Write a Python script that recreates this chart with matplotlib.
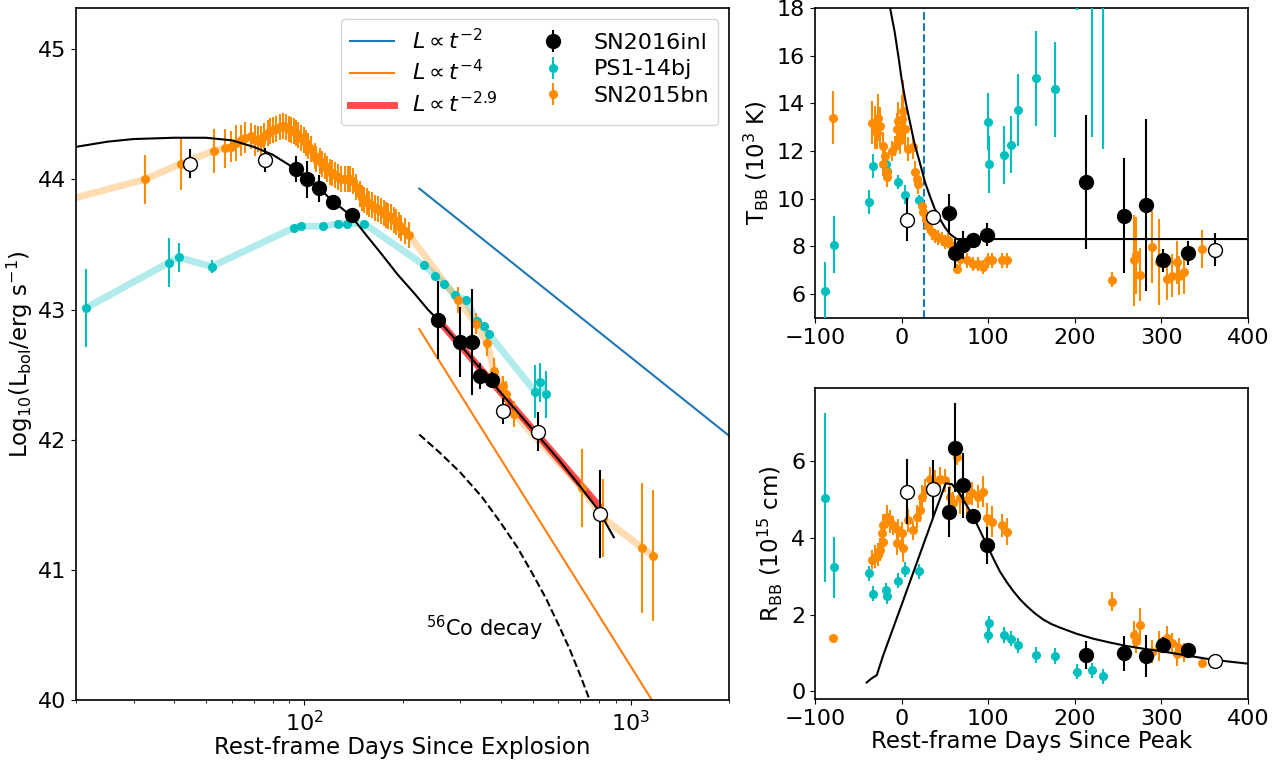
import matplotlib

matplotlib.use("Agg")
import matplotlib.pyplot as plt

# ---------------------------------------------------------------------------
# Left panel: bolometric light curves vs rest-frame days since explosion
# ---------------------------------------------------------------------------
inl_t_fill = [94.5, 102, 111, 122.6, 140, 257, 300, 326, 345, 376]
inl_L_fill = [44.08, 44.00, 43.93, 43.83, 43.73, 42.92, 42.75, 42.75, 42.49, 42.46]
inl_Lerr_fill = [0.10, 0.14, 0.10, 0.04, 0.04, 0.30, 0.27, 0.41, 0.10, 0.06]
inl_t_open = [44.8, 76, 406, 520, 804]
inl_L_open = [44.12, 44.15, 42.22, 42.06, 41.43]
inl_Lerr_open = [0.11, 0.09, 0.10, 0.15, 0.34]

model_t = [20, 25, 30, 40, 50, 60, 70, 80, 90, 100, 110, 122.6, 130, 139, 155,
           172, 193, 218, 239, 257, 300, 350, 400, 500, 600, 700, 800, 887]
model_L = [44.25, 44.29, 44.31, 44.32, 44.32, 44.30, 44.25, 44.19, 44.11, 44.02,
           43.94, 43.83, 43.78, 43.72, 43.57, 43.43, 43.27, 43.12, 43.00, 42.92,
           42.73, 42.53, 42.36, 42.08, 41.85, 41.64, 41.45, 41.25]

ps_t = [21.4, 38.4, 41.2, 52.0, 93.2, 97.9, 114, 127, 135, 152.6, 233, 252, 268,
        290, 313, 338, 355, 368, 509, 527, 550]
ps_L = [43.01, 43.36, 43.40, 43.33, 43.63, 43.64, 43.64, 43.66, 43.66, 43.66,
        43.34, 43.26, 43.20, 43.11, 43.07, 42.91, 42.87, 42.81, 42.37, 42.44, 42.35]
ps_Lerr = [0.30, 0.19, 0.11, 0.05, 0.02, 0.02, 0.03, 0.03, 0.02, 0.02, 0.03,
           0.03, 0.02, 0.03, 0.03, 0.03, 0.03, 0.03, 0.20, 0.15, 0.18]

bn_t = [18, 32.5, 41.8, 52.9, 57.1, 59.5, 62.0, 63.8, 65.7, 68.9, 70.5, 72.2,
        73.9, 75.5, 77.4, 78.8, 80.2, 82.0, 84.0, 86.0, 88.1, 90.0, 91.3, 93.0,
        94.5, 96.0, 97.9, 99.5, 101.4, 103.0, 105.1, 107.5, 109.0, 111.4, 113.5,
        115.4, 117.5, 119.5, 121.5, 123.8, 126.5, 129.8, 133.0, 136.0, 138.5,
        140.9, 144.3, 147.7, 150.0, 152.9, 155.5, 158.3, 161.0, 164.1, 168.0,
        172.0, 175.0, 178.1, 181.0, 184.6, 188.0, 191.4, 195.0, 198.3, 204.0,
        209.9, 296, 336, 363, 381, 406, 415, 439, 707, 820, 1083, 1166]
bn_L = [43.83, 44.00, 44.12, 44.22, 44.24, 44.25, 44.28, 44.30, 44.32, 44.33,
        44.30, 44.31, 44.29, 44.33, 44.36, 44.37, 44.38, 44.39, 44.40, 44.41,
        44.40, 44.39, 44.38, 44.37, 44.36, 44.34, 44.32, 44.30, 44.28, 44.26,
        44.23, 44.18, 44.16, 44.14, 44.12, 44.10, 44.08, 44.06, 44.05, 44.03,
        44.02, 44.00, 44.00, 44.00, 44.00, 43.99, 43.94, 43.89, 43.86, 43.84,
        43.83, 43.81, 43.80, 43.78, 43.77, 43.76, 43.74, 43.73, 43.72, 43.71,
        43.69, 43.67, 43.65, 43.63, 43.60, 43.57, 43.07, 42.89, 42.74, 42.53,
        42.41, 42.35, 42.20, 41.63, 41.40, 41.17, 41.11]
bn_Lerr = [0.10, 0.19, 0.20, 0.17, 0.15, 0.12, 0.14, 0.12, 0.12, 0.10, 0.12,
           0.10, 0.12, 0.10, 0.10, 0.10, 0.10, 0.10, 0.10, 0.10, 0.10, 0.10,
           0.10, 0.10, 0.10, 0.10, 0.10, 0.10, 0.10, 0.10, 0.10, 0.10, 0.10,
           0.10, 0.10, 0.10, 0.10, 0.10, 0.10, 0.10, 0.10, 0.10, 0.10, 0.10,
           0.10, 0.10, 0.10, 0.10, 0.10, 0.10, 0.10, 0.10, 0.10, 0.10, 0.10,
           0.10, 0.10, 0.10, 0.10, 0.10, 0.10, 0.10, 0.10, 0.10, 0.10, 0.10,
           0.10, 0.08, 0.10, 0.10, 0.08, 0.10, 0.10, 0.30, 0.30, 0.50, 0.50]

# power-law guides (end points) and 56Co decay curve
pl2_t, pl2_L = [225, 2000], [43.93, 42.03]
pl4_t, pl4_L = [225, 1160], [42.85, 40.00]
pl29_t, pl29_L = [257, 800], [42.92, 41.49]
co_t = [225, 260, 300, 350, 400, 450, 500, 550, 600, 650, 700, 743]
co_L = [42.04, 41.90, 41.75, 41.56, 41.36, 41.17, 40.97, 40.78, 40.58, 40.39,
        40.19, 40.02]

# ---------------------------------------------------------------------------
# Right panels: blackbody temperature and radius vs days since peak
# ---------------------------------------------------------------------------
inl_day_fill = [54.8, 61.4, 70.6, 82.2, 98.8, 213, 257, 282, 302, 331]
inl_T_fill = [9.39, 7.71, 8.06, 8.29, 8.50, 10.70, 9.29, 9.75, 7.41, 7.71]
inl_Terr_fill = [0.8, 0.6, 0.6, 0.2, 0.5, 2.8, 2.4, 3.6, 0.5, 0.5]
inl_R_fill = [4.68, 6.35, 5.37, 4.58, 3.80, 0.95, 0.99, 0.92, 1.21, 1.07]
inl_Rerr_fill = [0.65, 1.15, 0.85, 0.10, 0.47, 0.37, 0.45, 0.56, 0.20, 0.10]
inl_day_open = [5.9, 36.7, 361.5]
inl_T_open = [9.11, 9.22, 7.87]
inl_Terr_open = [0.9, 0.3, 0.7]
inl_R_open = [5.20, 5.27, 0.78]
inl_Rerr_open = [0.85, 0.75, 0.05]

mT_day = [-13.3, -8, -3, 0.1, 5, 9.7, 15, 21.2, 27, 32.8, 38, 44.3, 50, 55.9,
          63.6, 400]
mT = [18.0, 17.0, 15.8, 15.0, 14.0, 13.2, 12.3, 11.5, 10.7, 10.1, 9.6, 9.15,
      8.8, 8.52, 8.31, 8.31]
mR_day = [-40.3, -35, -28.7, -21, 0, 20, 40, 51, 58, 67, 75, 82.8, 90.5, 98.3,
          106, 113.6, 121.3, 129, 136.7, 144.5, 154, 163.6, 173.2, 182.9, 202,
          221.4, 240.7, 260, 279, 298.4, 330, 360, 400]
mR = [0.23, 0.33, 0.42, 0.95, 2.25, 3.5, 4.75, 5.42, 5.40, 5.15, 4.85, 4.55,
      4.19, 3.82, 3.46, 3.12, 2.85, 2.61, 2.40, 2.22, 2.03, 1.87, 1.75, 1.66,
      1.50, 1.37, 1.27, 1.18, 1.11, 1.05, 0.93, 0.82, 0.72]
peak_line_day = 26.3

ps_day = [-88.4, -78, -37.2, -32.6, -18, -17.2, -4.5, 4, 20.6, 99.5, 101, 118.4,
          126, 135, 155.8, 177.7, 202, 219.7, 233]
ps_T = [6.13, 8.08, 9.87, 11.38, 11.45, 11.17, 10.71, 10.17, 9.94, 13.23, 11.45,
        11.83, 12.26, 13.71, 15.05, 14.58, 20.0, 24.0, 26.0]
ps_Terr = [1.2, 1.2, 0.5, 0.5, 0.3, 0.3, 0.3, 0.4, 0.2, 1.2, 1.2, 1.2, 1.2, 1.5,
           2.0, 2.0, 2.1, 11.4, 13.9]
ps_R = [5.04, 3.23, 3.07, 2.54, 2.63, 2.48, 2.88, 3.17, 3.13, 1.47, 1.77, 1.47,
        1.37, 1.20, 0.95, 0.92, 0.51, 0.55, 0.39]
ps_Rerr = [2.2, 0.8, 0.2, 0.2, 0.2, 0.2, 0.2, 0.2, 0.2, 0.2, 0.2, 0.2, 0.2, 0.2,
           0.2, 0.2, 0.2, 0.2, 0.2]

bn_day_T = [-78.9, -34.5, -30.7, -28.8, -26.9, -24.9, -21.1, -21.1, -19.2, -17.2,
            -17.2, -11.4, -7.5, -5.7, -3.8, -1.8, 0.1, 2.0, 3.9, 7.7, 13.5, 15.5,
            17.4, 19.3, 23.2, 25.1, 28.2, 30.8, 34.7, 38.6, 42.4, 46.3, 50.1,
            54.0, 57.8, 63.6, 67.4, 75.1, 82.8, 88.6, 94.4, 100.2, 104.0, 115.6,
            121.4, 242.8, 268.6, 271.0, 275.6, 289.0, 296.8, 306.4, 312.0, 318.0,
            319.9, 325.6, 346.8]
bn_T = [13.40, 13.19, 12.98, 12.77, 13.40, 13.05, 12.21, 11.45, 11.80, 11.10,
        10.89, 12.00, 12.21, 12.91, 13.26, 12.46, 13.33, 13.68, 12.91, 12.08,
        12.15, 11.10, 10.82, 10.61, 9.71, 9.43, 9.15, 8.87, 8.59, 8.45, 8.38,
        8.31, 8.18, 8.25, 8.03, 7.06, 7.48, 7.41, 7.27, 7.27, 7.13, 7.41, 7.41,
        7.41, 7.41, 6.61, 7.41, 7.62, 6.82, 7.97, 7.34, 6.64, 6.78, 7.34, 6.78,
        6.92, 7.90]
bn_Terr = [1.1, 0.9, 0.9, 0.7, 1.0, 0.8, 0.6, 0.5, 0.5, 0.4, 0.4, 0.4, 0.4, 0.7,
           0.8, 0.6, 1.0, 1.3, 0.8, 0.5, 0.5, 0.5, 0.4, 0.4, 0.3, 0.4, 0.3, 0.3,
           0.3, 0.3, 0.3, 0.3, 0.3, 0.3, 0.3, 0.2, 0.3, 0.3, 0.3, 0.3, 0.3, 0.3,
           0.3, 0.3, 0.3, 0.3, 1.9, 1.6, 1.1, 1.5, 1.8, 0.9, 0.9, 0.9, 0.8, 0.9,
           0.8]

bn_day_R = [-78.9, -34.5, -30.7, -26.9, -24.9, -21.1, -23.0, -21.1, -17.2, -13.4,
            -9.6, -3.8, 0.1, -5.7, 2.0, 7.7, 13.5, 17.4, 21.2, 23.2, 27.0, 32.8,
            38.6, 44.3, 50.1, 55.9, 59.7, 63.6, 67.4, 75.1, 80.9, 88.6, 94.4,
            98.2, 104.0, 115.6, 121.4, 242.8, 268.6, 271.0, 275.6, 289.0, 296.8,
            306.4, 312.0, 318.0, 319.9, 325.6, 346.8]
bn_R = [1.38, 3.43, 3.51, 3.56, 3.69, 3.90, 4.12, 4.33, 4.55, 4.42, 4.33, 4.20,
        4.12, 3.86, 3.73, 4.46, 4.20, 4.55, 4.72, 5.07, 5.24, 5.54, 5.46, 5.54,
        5.50, 5.07, 4.90, 6.10, 5.03, 4.98, 5.16, 5.07, 5.20, 4.51, 4.42, 4.33,
        4.16, 2.33, 1.47, 1.31, 1.73, 1.03, 1.18, 1.40, 1.27, 0.97, 1.14, 1.01,
        0.73]
bn_Rerr = [0.05, 0.25, 0.3, 0.3, 0.3, 0.25, 0.3, 0.3, 0.3, 0.3, 0.25, 0.3, 0.3,
           0.3, 0.35, 0.3, 0.25, 0.3, 0.3, 0.3, 0.3, 0.3, 0.3, 0.3, 0.3, 0.3, 0.3,
           0.2, 0.4, 0.4, 0.3, 0.3, 0.4, 0.4, 0.4, 0.3, 0.35, 0.25, 0.35, 0.3,
           0.45, 0.3, 0.4, 0.3, 0.25, 0.3, 0.25, 0.25, 0.08]

CYAN = "c"
ORANGE = "darkorange"
FS = 16

plt.rcParams["font.family"] = "DejaVu Sans"
plt.rcParams["font.size"] = FS
plt.rcParams["axes.linewidth"] = 1.2

fig = plt.figure(figsize=(12.78, 7.6), dpi=100)
ax = fig.add_axes([0.0595, 0.079, 0.511, 0.911])
axT = fig.add_axes([0.6377, 0.5816, 0.3388, 0.408])
axR = fig.add_axes([0.6377, 0.0803, 0.3388, 0.409])

small = dict(fmt="o", ms=5.5, elinewidth=1.5, capsize=0)
big = dict(fmt="o", ms=10, elinewidth=1.5, capsize=0, color="k", zorder=6)
big_open = dict(fmt="o", ms=10, elinewidth=1.5, capsize=0, color="k",
                mfc="white", mec="k", zorder=6)

# ---- left panel ----
ax.plot(pl2_t, pl2_L, color="tab:blue", lw=1.5, label=r"$L \propto t^{-2}$")
ax.plot(pl4_t, pl4_L, color="tab:orange", lw=1.5, label=r"$L \propto t^{-4}$")
ax.plot(pl29_t, pl29_L, color="red", lw=5, alpha=0.7, label=r"$L \propto t^{-2.9}$")
ax.plot(co_t, co_L, "k--", lw=1.5)
ax.plot(ps_t, ps_L, color=CYAN, lw=5, alpha=0.3, zorder=1)
ax.plot(bn_t, bn_L, color=ORANGE, lw=5, alpha=0.3, zorder=1)
ax.errorbar(ps_t, ps_L, yerr=ps_Lerr, color=CYAN, label="PS1-14bj", zorder=3, **small)
ax.errorbar(bn_t, bn_L, yerr=bn_Lerr, color=ORANGE, label="SN2015bn", zorder=3, **small)
ax.plot(model_t, model_L, color="k", lw=1.5, zorder=4)
ax.errorbar(inl_t_fill, inl_L_fill, yerr=inl_Lerr_fill, label="SN2016inl", **big)
ax.errorbar(inl_t_open, inl_L_open, yerr=inl_Lerr_open, **big_open)
ax.text(236, 40.55, r"$^{56}$Co decay", fontsize=FS - 1, va="center")

ax.set_xscale("log")
ax.set_xlim(20, 2000)
ax.set_ylim(40, 45.32)
ax.set_xlabel("Rest-frame Days Since Explosion", fontsize=FS + 0.5, labelpad=1)
ax.set_ylabel(r"Log$_{10}$(L$_{\rm bol}$/erg s$^{-1}$)", fontsize=FS + 0.5,
              labelpad=2)

h, l = ax.get_legend_handles_labels()
order = [l.index(s) for s in [r"$L \propto t^{-2}$", r"$L \propto t^{-4}$",
                              r"$L \propto t^{-2.9}$", "SN2016inl", "PS1-14bj",
                              "SN2015bn"]]
ax.legend([h[i] for i in order], [l[i] for i in order], loc="upper right",
          ncol=2, fontsize=FS, columnspacing=1.5, labelspacing=0.3)

# ---- temperature panel ----
axT.errorbar(ps_day, ps_T, yerr=ps_Terr, color=CYAN, zorder=3, **small)
axT.errorbar(bn_day_T, bn_T, yerr=bn_Terr, color=ORANGE, zorder=3, **small)
axT.plot(mT_day, mT, color="k", lw=1.5, zorder=4)
axT.axvline(peak_line_day, color="tab:blue", ls="--", lw=1.5)
axT.errorbar(inl_day_fill, inl_T_fill, yerr=inl_Terr_fill, **big)
axT.errorbar(inl_day_open, inl_T_open, yerr=inl_Terr_open, **big_open)
axT.set_xlim(-100, 400)
axT.set_ylim(5, 18)
axT.set_yticks([6, 8, 10, 12, 14, 16, 18])
axT.set_ylabel(r"T$_{\rm BB}$ (10$^3$ K)", fontsize=FS + 0.5)

# ---- radius panel ----
axR.errorbar(ps_day, ps_R, yerr=ps_Rerr, color=CYAN, zorder=3, **small)
axR.errorbar(bn_day_R, bn_R, yerr=bn_Rerr, color=ORANGE, zorder=3, **small)
axR.plot(mR_day, mR, color="k", lw=1.5, zorder=4)
axR.errorbar(inl_day_fill, inl_R_fill, yerr=inl_Rerr_fill, **big)
axR.errorbar(inl_day_open, inl_R_open, yerr=inl_Rerr_open, **big_open)
axR.set_xlim(-100, 400)
axR.set_ylim(-0.2, 7.9)
axR.set_yticks([0, 2, 4, 6])
axR.set_xlabel("Rest-frame Days Since Peak", fontsize=FS + 0.5, labelpad=1)
axR.set_ylabel(r"R$_{\rm BB}$ (10$^{15}$ cm)", fontsize=FS + 0.5)

for a in (ax, axT, axR):
    a.tick_params(labelsize=FS)

fig.savefig("out.png", dpi=100)
